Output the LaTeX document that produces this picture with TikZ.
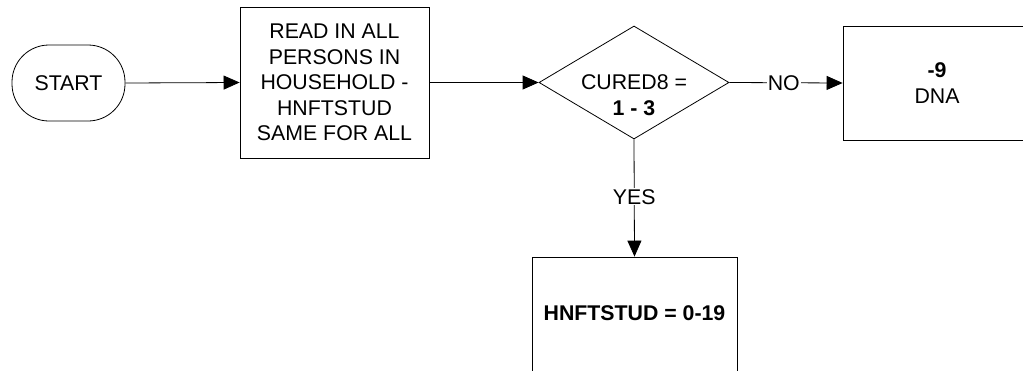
\documentclass[tikz,border=0pt]{standalone}
\usepackage{fontspec}
\setmainfont{Liberation Sans}
\usetikzlibrary{shapes.geometric,arrows.meta}
\begin{document}
\begin{tikzpicture}[x=1pt,y=-1pt,
  every node/.style={font=\fontsize{21.3}{25.5}\selectfont, align=center},
  boxst/.style={draw, line width=0.8pt, inner sep=0pt},
  conn/.style={line width=0.8pt, -{Triangle[length=16pt,width=14pt]}},
  lbl/.style={fill=white, inner sep=1pt}]
\useasboundingbox (0,0) rectangle (1023,370);
\begin{scope}
\clip (0,0) rectangle (1023,370);
\node[boxst, rounded corners=37pt, minimum width=113pt, minimum height=76pt] (start) at (68.5,83) {START};
\node[boxst, minimum width=189pt, minimum height=151pt] (read) at (334.5,82.5) {READ IN ALL\\PERSONS IN\\HOUSEHOLD -\\HNFTSTUD\\SAME FOR ALL};
\node[boxst, diamond, minimum width=190pt, minimum height=113pt, aspect=1.68] (dec) at (634,82.5) {};
\node at (634,95) {CURED8 =\\\textbf{1 - 3}};
\node[boxst, minimum width=188pt, minimum height=114pt] (dna) at (937,83) {\textbf{-9}\\DNA};
\node[boxst, minimum width=205pt, minimum height=116pt] (hn) at (634.5,315) {};
\node at (634.5,313) {\textbf{HNFTSTUD = 0-19}};
\draw[conn] (start.east) -- (read.west);
\draw[conn] (read.east) -- (dec.west);
\draw[conn] (dec.east) -- node[lbl, pos=0.48] {NO} (dna.west);
\draw[conn] (dec.south) -- node[lbl, pos=0.49] {YES} (hn.north);
\end{scope}
\end{tikzpicture}
\end{document}
